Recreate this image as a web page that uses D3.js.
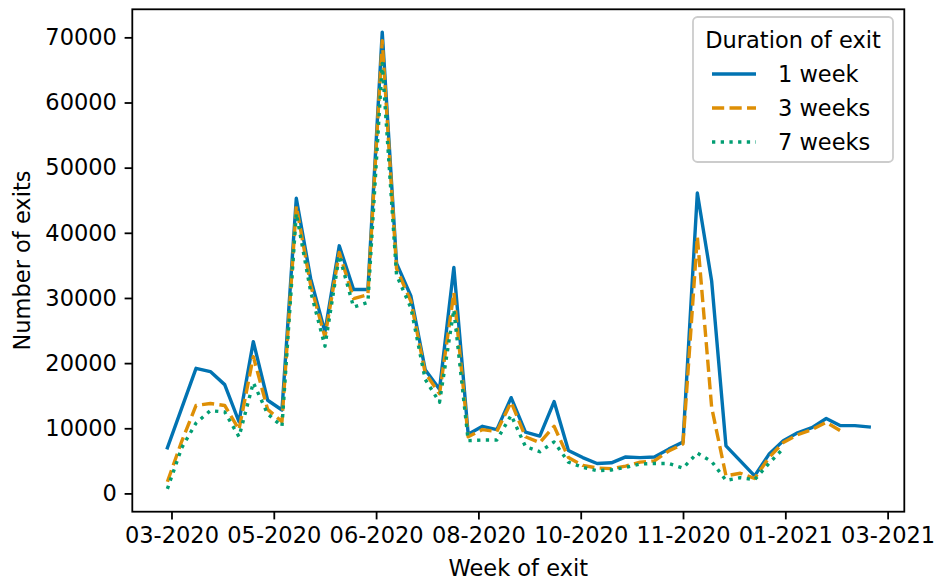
<!DOCTYPE html>
<html>
<head>
<meta charset="utf-8">
<script src="https://cdn.jsdelivr.net/npm/d3@7"></script>
<style>
  body { margin: 0; background: #fff; }
  svg { display: block; font-family: "DejaVu Sans", sans-serif; }
</style>
</head>
<body>
<svg id="chart" width="934" height="580"></svg>
<script>
// weekly exit dates
const weeks = [
  "2020-03-14", "2020-03-21", "2020-03-28", "2020-04-04", "2020-04-11", "2020-04-18", "2020-04-25",
  "2020-05-02", "2020-05-09", "2020-05-16", "2020-05-23", "2020-05-30", "2020-06-06", "2020-06-13",
  "2020-06-20", "2020-06-27", "2020-07-04", "2020-07-11", "2020-07-18", "2020-07-25", "2020-08-01",
  "2020-08-08", "2020-08-15", "2020-08-22", "2020-08-29", "2020-09-05", "2020-09-12", "2020-09-19",
  "2020-09-26", "2020-10-03", "2020-10-10", "2020-10-17", "2020-10-24", "2020-10-31", "2020-11-07",
  "2020-11-14", "2020-11-21", "2020-11-28", "2020-12-05", "2020-12-12", "2020-12-19", "2020-12-26",
  "2021-01-02", "2021-01-09", "2021-01-16", "2021-01-23", "2021-01-30", "2021-02-06", "2021-02-13",
  "2021-02-20"
];

const oneWeek = [
  7000, 13100, 19200, 18700, 16700, 11000, 23300, 14300, 12800, 45300,
  33000, 24800, 38000, 31300, 31300, 70800, 35300, 30300, 19000, 16000,
  34700, 9100, 10300, 9800, 14700, 9400, 8800, 14100, 6600, 5500,
  4600, 4700, 5600, 5500, 5600, 6800, 7900, 46100, 32600, 7300,
  5000, 2700, 6000, 8100, 9300, 10100, 11500, 10400, 10400, 10200
];

const threeWeeks = [
  1800, 8000, 13500, 13800, 13500, 9800, 21000, 12900, 11000, 44100,
  32000, 24000, 37000, 29900, 30500, 69500, 34500, 29500, 18500, 15300,
  30800, 8700, 9800, 9500, 14000, 8700, 7800, 10300, 5500, 4300,
  3900, 3800, 4200, 4800, 5000, 6500, 7600, 39400, 13200, 2700,
  3100, 2300, 5500, 7800, 9000, 9800, 10900, 9600
];

const sevenWeeks = [
  700, 7000, 10800, 12700, 12500, 8700, 17000, 12200, 10300, 43000,
  31000, 22600, 36500, 28600, 29300, 66000, 33500, 28500, 17500, 14000,
  28200, 8100, 8200, 8200, 12000, 7200, 6400, 7900, 4800, 4000,
  3500, 3600, 4000, 4500, 4600, 4600, 3900, 6200, 4900, 2000,
  2400, 2100, 4600, 6900
];

const xTicks = ["2020-03-16", "2020-05-05", "2020-06-24", "2020-08-13", "2020-10-02", "2020-11-21", "2021-01-10", "2021-03-01"];
const yTicks = [0, 10000, 20000, 30000, 40000, 50000, 60000, 70000];

const seriesNames = ["1 week", "3 weeks", "7 weeks"];
const seriesColors = ["#0173b2", "#de8f05", "#029e73"];
const seriesDash = [null, "12.2,5.3", "3.3,5.4"];

const FONT = 22.5;

const parse = d3.utcParse("%Y-%m-%d");
const dates = weeks.map(parse);
const series = [oneWeek, threeWeeks, sevenWeeks].map((vals, k) => ({
  name: seriesNames[k],
  color: seriesColors[k],
  dash: seriesDash[k],
  points: vals.map((v, i) => ({ date: dates[i], value: v }))
}));

const margin = { top: 9.3, right: 29.7, bottom: 68.3, left: 132.3 };
const width = 934 - margin.left - margin.right;
const height = 580 - margin.top - margin.bottom;

const svg = d3.select("#chart");
const g = svg.append("g").attr("transform", `translate(${margin.left},${margin.top})`);

// matplotlib style 5% margins
const t0 = dates[0].getTime(), t1 = dates[dates.length - 1].getTime();
const padX = (t1 - t0) * 0.05;
const x = d3.scaleUtc()
  .domain([new Date(t0 - padX), new Date(t1 + padX)])
  .range([0, width]);

const allVals = oneWeek.concat(threeWeeks, sevenWeeks);
const vMin = d3.min(allVals), vMax = d3.max(allVals);
const padY = (vMax - vMin) * 0.05;
const y = d3.scaleLinear()
  .domain([vMin - padY, vMax + padY])
  .range([height, 0]);

const line = d3.line()
  .x(d => x(d.date))
  .y(d => y(d.value));

g.selectAll(".series")
  .data(series)
  .join("path")
  .attr("class", "series")
  .attr("d", d => line(d.points))
  .attr("fill", "none")
  .attr("stroke", d => d.color)
  .attr("stroke-width", 3.4)
  .attr("stroke-dasharray", d => d.dash)
  .attr("stroke-linejoin", "round")
  .attr("stroke-linecap", d => d.dash ? "butt" : "square");

// axes
const fmtX = d3.utcFormat("%m-%Y");
const xAxis = g.append("g")
  .attr("transform", `translate(0,${height})`)
  .call(d3.axisBottom(x).tickValues(xTicks.map(parse)).tickFormat(fmtX).tickSizeInner(7.7).tickSizeOuter(0).tickPadding(7.7));

const yAxis = g.append("g")
  .call(d3.axisLeft(y).tickValues(yTicks).tickFormat(d3.format("d")).tickSizeInner(7.7).tickSizeOuter(0).tickPadding(7.7));

[xAxis, yAxis].forEach(a => {
  a.select(".domain").remove();
  a.selectAll(".tick line").attr("stroke", "#000").attr("stroke-width", 1.8);
  a.selectAll(".tick text").attr("font-size", FONT).attr("fill", "#000")
    .attr("font-family", "DejaVu Sans, sans-serif");
});

// frame
g.append("rect")
  .attr("width", width)
  .attr("height", height)
  .attr("fill", "none")
  .attr("stroke", "#000")
  .attr("stroke-width", 1.8);

// axis labels
svg.append("text")
  .attr("x", margin.left + width / 2)
  .attr("y", 576)
  .attr("text-anchor", "middle")
  .attr("font-size", FONT)
  .text("Week of exit");

svg.append("text")
  .attr("transform", `translate(30,${margin.top + height / 2}) rotate(-90)`)
  .attr("text-anchor", "middle")
  .attr("font-size", FONT)
  .text("Number of exits");

// legend
const legend = svg.append("g").attr("transform", "translate(693,17)");
legend.append("rect")
  .attr("width", 200)
  .attr("height", 145)
  .attr("rx", 4.5)
  .attr("fill", "#fff")
  .attr("fill-opacity", 0.8)
  .attr("stroke", "#cccccc")
  .attr("stroke-width", 1.8);

legend.append("text")
  .attr("x", 100)
  .attr("y", 31)
  .attr("text-anchor", "middle")
  .attr("font-size", FONT)
  .text("Duration of exit");

const items = legend.selectAll(".item")
  .data(series)
  .join("g")
  .attr("class", "item")
  .attr("transform", (d, i) => `translate(0,${57 + i * 34})`);

items.append("line")
  .attr("x1", 19)
  .attr("x2", 63)
  .attr("stroke", d => d.color)
  .attr("stroke-width", 3.4)
  .attr("stroke-dasharray", d => d.dash);

items.append("text")
  .attr("x", 85)
  .attr("y", 8)
  .attr("font-size", FONT)
  .text(d => d.name);
</script>
</body>
</html>
